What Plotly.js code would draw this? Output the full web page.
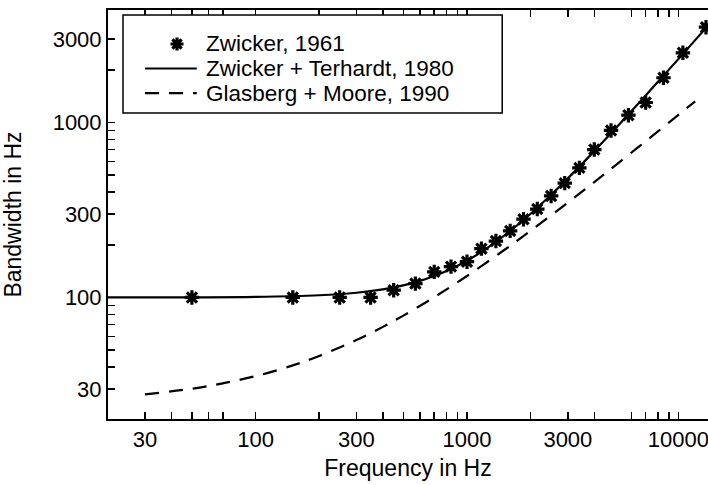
<!DOCTYPE html>
<html><head><meta charset="utf-8">
<script src="https://cdn.plot.ly/plotly-3.0.1.min.js"></script>
<style>html,body{margin:0;padding:0;background:#fff}#chart{width:708px;height:485px}</style>
</head><body><div id="chart"></div>
<script>
// Zwicker 1961 critical bands (stars)
const zwicker1961Freq = [50,150,250,350,450,570,700,840,1000,1170,1370,1600,1850,2150,2500,2900,3400,4000,4800,5800,7000,8500,10500,13500];
const zwicker1961BW   = [100,100,100,100,110,120,140,150,160,190,210,240,280,320,380,450,550,700,900,1100,1300,1800,2500,3500];
// Zwicker + Terhardt 1980 (solid)
const ztFreq = [20,100,200,300,400,500,600,700,800,1000,1200,1500,2000,2500,3000,4000,5000,6000,7000,8000,10000,12000,14000];
const ztBW   = [100,100.7,102.9,106.4,111.2,117.3,124.4,132.5,141.6,162.2,185.6,225.2,300.8,386.0,479.1,685.5,914.1,1161.7,1426,1706,2305,2953,3645];
// Glasberg + Moore 1990 (dashed)
const gmFreq = [30,50,70,100,150,200,300,400,500,700,1000,1500,2000,3000,4000,5000,7000,10000,12000];
const gmBW   = [27.9,30.1,32.3,35.5,40.9,46.3,57.1,67.9,78.7,100.3,132.6,186.6,240.6,348.5,456.5,564.4,780.3,1104.1,1320.0];

const xTickVals = [30,40,50,60,70,100,200,300,400,500,600,700,800,900,1000,2000,3000,4000,6000,7000,8000,9000,10000];
const xLabeled  = [30,100,300,1000,3000,10000];
const yTickVals = [30,40,50,60,70,80,90,100,200,300,400,500,600,700,800,900,1000,2000,3000];
const yLabeled  = [30,100,300,1000,3000];
const seriesNames = ['Zwicker, 1961','Zwicker + Terhardt, 1980','Glasberg + Moore, 1990'];

const FONT = 'Liberation Sans, Arial, sans-serif';
const DASH = '14px,10px';

// legend geometry (paper fractions of the plot area)
const legX = {box0:0.025, box1:0.657, line0:0.0617, line1:0.148, star:0.115, text:0.16};
const legY = {box0:0.748, box1:0.988, rows:[0.9169, 0.857, 0.797]};

const traces = [
  {x: gmFreq, y: gmBW, type:'scatter', mode:'lines', name: seriesNames[2],
   line:{color:'#000', width:2.2, dash:DASH, shape:'spline'}},
  {x: ztFreq, y: ztBW, type:'scatter', mode:'lines', name: seriesNames[1],
   line:{color:'#000', width:2.2, shape:'spline'}},
  {x: zwicker1961Freq, y: zwicker1961BW, type:'scatter', mode:'markers', name: seriesNames[0],
   marker:{symbol:'asterisk-open', size:12, color:'#000', line:{color:'#000', width:3.2}}}
];
const layout = {
  width:708, height:485,
  margin:{l:108, r:0, t:10, b:66},
  paper_bgcolor:'#fff', plot_bgcolor:'#fff',
  font:{family:FONT, color:'#000', size:18},
  showlegend:false,
  shapes:[
    {type:'rect', xref:'paper', yref:'paper', x0:legX.box0, x1:legX.box1, y0:legY.box0, y1:legY.box1,
     fillcolor:'#fff', line:{color:'#000', width:1.5}, layer:'above'},
    {type:'path', xref:'paper', yref:'paper', xsizemode:'pixel', ysizemode:'pixel',
     xanchor:legX.star, yanchor:legY.rows[0],
     path:'M-6.5,0L6.5,0M0,-6.5L0,6.5M-4.6,-4.6L4.6,4.6M-4.6,4.6L4.6,-4.6',
     line:{color:'#000', width:3.2}, layer:'above'},
    {type:'line', xref:'paper', yref:'paper', x0:legX.line0, x1:legX.line1, y0:legY.rows[1], y1:legY.rows[1],
     line:{color:'#000', width:2.2}, layer:'above'},
    {type:'line', xref:'paper', yref:'paper', x0:legX.line0, x1:legX.line1, y0:legY.rows[2], y1:legY.rows[2],
     line:{color:'#000', width:2.2, dash:DASH}, layer:'above'}
  ],
  annotations: seriesNames.map((t,i) => ({text:t, xref:'paper', yref:'paper', x:legX.text, y:legY.rows[i],
     xanchor:'left', yanchor:'middle', showarrow:false, font:{family:FONT, size:22.5, color:'#000'}})),
  xaxis:{type:'log', range:[Math.log10(20.05), Math.log10(13800)], showgrid:false, zeroline:false,
         showline:true, linecolor:'#000', linewidth:2, mirror:'ticks',
         ticks:'inside', ticklen:7, tickwidth:1.5, tickcolor:'#000',
         tickmode:'array', tickvals:xTickVals, ticklabeloverflow:'allow',
         ticktext:xTickVals.map(v => xLabeled.includes(v) ? String(v) : ''),
         tickfont:{family:FONT, size:22},
         title:{text:'Frequency in Hz', font:{family:FONT, size:23}, standoff:8}},
  yaxis:{type:'log', range:[Math.log10(20.2), Math.log10(4390)], showgrid:false, zeroline:false,
         showline:true, linecolor:'#000', linewidth:2, mirror:false,
         ticks:'inside', ticklen:7, tickwidth:1.5, tickcolor:'#000',
         tickmode:'array', tickvals:yTickVals,
         ticktext:yTickVals.map(v => yLabeled.includes(v) ? String(v) : ''),
         tickfont:{family:FONT, size:22},
         title:{text:'Bandwidth in Hz', font:{family:FONT, size:23}, standoff:26}}
};
Plotly.newPlot('chart', traces, layout, {displayModeBar:false, staticPlot:true});
</script></body></html>
